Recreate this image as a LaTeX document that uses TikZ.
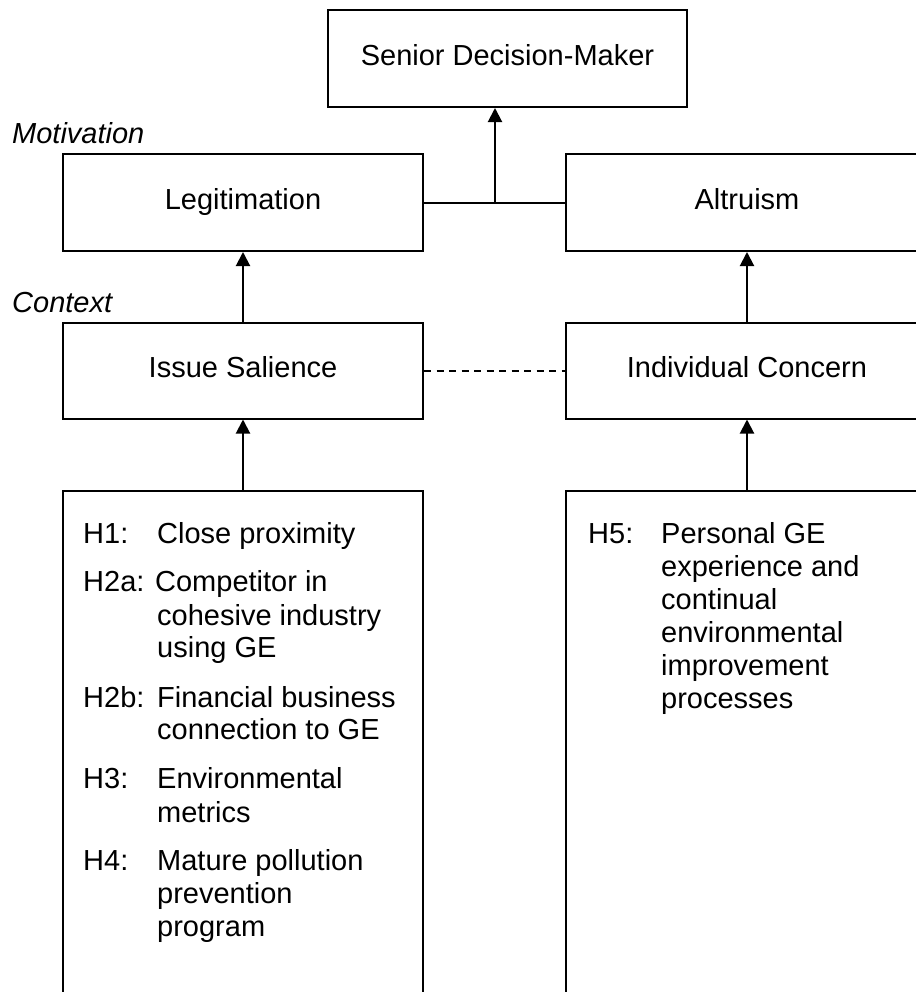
\documentclass[tikz,border=0pt]{standalone}
\usepackage{fontspec}
\setmainfont{Liberation Sans}
\usetikzlibrary{arrows.meta}
\begin{document}
\begin{tikzpicture}[x=1bp,y=-1bp,
  box/.style={draw, line width=2bp, minimum width=360bp, minimum height=97bp, inner sep=0pt,
    text height=21bp, text depth=7bp, font=\fontsize{29bp}{33.35bp}\selectfont},
  tall/.style={draw, line width=2bp, minimum width=360bp, minimum height=600bp, inner sep=0pt, anchor=north},
  txt/.style={anchor=base west, inner sep=0pt, font=\fontsize{29bp}{33.35bp}\selectfont},
  lev/.style={anchor=base west, inner sep=0pt, font=\fontsize{29bp}{33.35bp}\selectfont\itshape},
  conn/.style={line width=2bp},
  arr/.style={conn, -{Triangle[length=14bp,width=14bp]}},
]
\useasboundingbox (0,0) rectangle (916,992);
\clip (0,0) rectangle (916,992);
\fill[white] (0,0) rectangle (916,992);

% level labels
\node[lev] (motiv) at (12,143) {Motivation};
\node[lev] (ctx) at (12,312) {Context};

% boxes
\node[box, minimum width=359bp] (sdm) at (507.5,58.5) {Senior Decision-Maker};
\node[box] (legit) at (243,202.5) {Legitimation};
\node[box, minimum width=362bp] (altr) at (747,202.5) {Altruism};
\node[box, minimum height=96bp] (issue) at (243,370.5) {Issue Salience};
\node[box, minimum width=362bp, minimum height=96bp] (indiv) at (747,370.5) {Individual Concern};
\node[tall] (hypL) at (243,490) {};
\node[tall, minimum width=362bp] (hypR) at (747,490) {};

% left hypotheses
\node[txt] (h1l) at (83,543) {H1:};
\node[txt] (h1t) at (157,543) {Close proximity};
\node[txt] (h2a) at (83,591) {H2a: Competitor in};
\node[txt] (h2a2) at (157,625) {cohesive industry};
\node[txt] (h2a3) at (157,657) {using GE};
\node[txt] (h2bl) at (83,707) {H2b:};
\node[txt] (h2b1) at (157,707) {Financial business};
\node[txt] (h2b2) at (157,739) {connection to GE};
\node[txt] (h3l) at (83,788) {H3:};
\node[txt] (h31) at (157,788) {Environmental};
\node[txt] (h32) at (157,822) {metrics};
\node[txt] (h4l) at (83,870) {H4:};
\node[txt] (h41) at (157,870) {Mature pollution};
\node[txt] (h42) at (157,903) {prevention};
\node[txt] (h43) at (157,936) {program};

% right hypotheses
\node[txt] (h5l) at (588,543) {H5:};
\node[txt] (h51) at (661,543) {Personal GE};
\node[txt] (h52) at (661,576) {experience and};
\node[txt] (h53) at (661,609) {continual};
\node[txt] (h54) at (661,642) {environmental};
\node[txt] (h55) at (661,675) {improvement};
\node[txt] (h56) at (661,708) {processes};

% connectors
\draw[conn] (legit.east) -- (altr.west);
\coordinate (j) at (495,202.5);
\draw[arr] (j) -- (j |- sdm.south);
\draw[arr] (issue.north) -- (legit.south);
\draw[arr] (indiv.north) -- (altr.south);
\draw[arr] (hypL.north) -- (issue.south);
\draw[arr] (hypR.north) -- (indiv.south);
\draw[conn, dash pattern=on 7bp off 5.5bp] (issue.east) -- (indiv.west);
\end{tikzpicture}
\end{document}
